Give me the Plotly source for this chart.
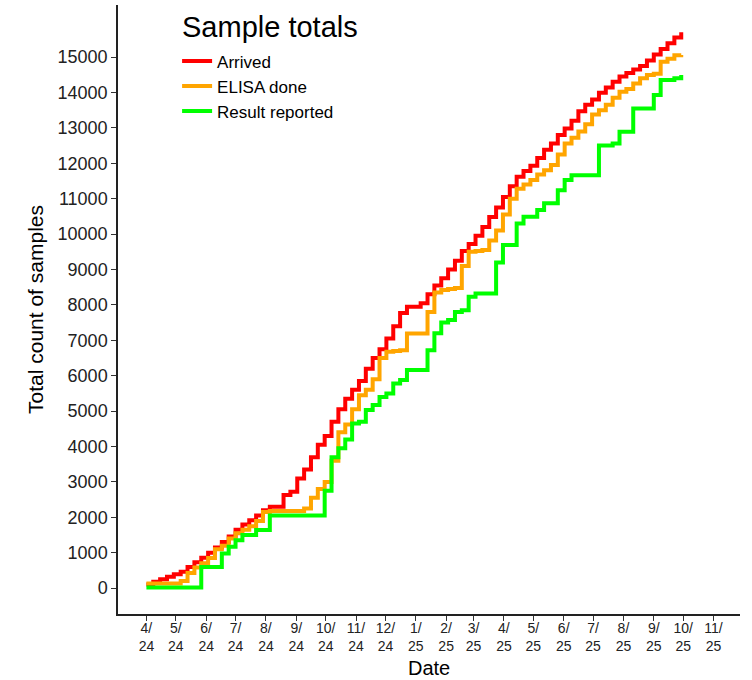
import pandas as pd
import plotly.graph_objects as go

# Weekly sampling dates (Mondays) from 1 Apr 2024
week_dates = list(pd.date_range("2024-04-01", periods=79, freq="7D"))

arrived = [100, 180, 250, 320, 390, 460, 600, 730, 860, 1000,
           1150, 1300, 1460, 1650, 1800, 1920, 2050, 2200, 2300, 2300,
           2630, 2720, 3100, 3350, 3700, 4050, 4300, 4700, 5050, 5350,
           5600, 5850, 6200, 6500, 6750, 7050, 7400, 7770, 7950, 7950,
           8050, 8300, 8550, 8750, 9000, 9250, 9520, 9720, 9950, 10200,
           10480, 10750, 11050, 11350, 11620, 11780, 11930, 12150, 12380, 12560,
           12800, 12980, 13200, 13470, 13650, 13800, 13990, 14140, 14300, 14450,
           14550, 14650, 14750, 14900, 15070, 15230, 15390, 15550, 15700]

elisa_done = [130, 130, 130, 130, 130, 200, 430, 580, 700, 850,
              1100, 1200, 1400, 1550, 1650, 1750, 1900, 2150, 2180, 2180,
              2180, 2180, 2180, 2250, 2550, 2800, 3000, 3600, 4400, 4620,
              5050, 5450, 5600, 5900, 6500, 6680, 6700, 6720, 7195, 7195,
              7195, 7800, 8350, 8420, 8450, 8480, 9100, 9500, 9520, 9550,
              9820, 10100, 10550, 11000, 11280, 11400, 11530, 11680, 11800, 11950,
              12250, 12560, 12720, 12900, 13100, 13380, 13500, 13650, 13850, 14020,
              14100, 14250, 14400, 14490, 14530, 14870, 14950, 15050, 15060]

result_reported = [20, 20, 20, 20, 20, 20, 20, 20, 600, 600,
                   600, 980, 1170, 1350, 1500, 1500, 1640, 1640, 2050, 2050,
                   2050, 2050, 2050, 2050, 2050, 2050, 2750, 3700, 3950, 4200,
                   4650, 4700, 5030, 5170, 5400, 5500, 5780, 5880, 6160, 6160,
                   6160, 6720, 7200, 7500, 7570, 7800, 7850, 8230, 8325, 8325,
                   8325, 9200, 9690, 9690, 10300, 10490, 10490, 10680, 10870, 10870,
                   11240, 11525, 11665, 11665, 11665, 11665, 12500, 12500, 12560, 12890,
                   12890, 13550, 13550, 13550, 13925, 14350, 14350, 14400, 14490]

series_names = ["Arrived", "ELISA done", "Result reported"]
series_colors = ["#FF0000", "#FFA500", "#00FF00"]

month_ticks = list(pd.date_range("2024-04-01", "2025-11-01", freq="MS"))
month_labels = [f"{d.month}/<br>{d.year % 100}" for d in month_ticks]
y_ticks = list(range(0, 15001, 1000))
y_labels = [str(v) for v in y_ticks]

FONT = "Liberation Sans, Arial, sans-serif"

fig = go.Figure()
for name, vals, col in zip(series_names, [arrived, elisa_done, result_reported], series_colors):
    fig.add_trace(go.Scatter(
        x=week_dates, y=vals, name=name, mode="lines",
        line=dict(color=col, width=4, shape="hv"),
    ))

fig.update_layout(
    width=752, height=680,
    margin=dict(l=118, r=12, t=5, b=66, autoexpand=False),
    paper_bgcolor="white", plot_bgcolor="white",
    font=dict(family=FONT, color="#1a1a1a"),
    showlegend=True,
    legend=dict(
        font=dict(size=17, color="#000"),
        x=0.095, xanchor="left", y=0.937, yanchor="top",
        bgcolor="rgba(0,0,0,0)", tracegroupgap=0,
    ),
    xaxis=dict(
        type="date", automargin=False,
        range=["2024-03-03", "2025-11-28"],
        tickmode="array", tickvals=month_ticks, ticktext=month_labels,
        tickfont=dict(size=14, color="#222"),
        ticks="outside", ticklen=5, tickcolor="#333", tickwidth=1,
        ticklabelstandoff=-5,
        showline=True, linecolor="#222", linewidth=1.5,
        showgrid=False, zeroline=False,
    ),
    yaxis=dict(
        automargin=False,
        range=[-730, 16470],
        tickmode="array", tickvals=y_ticks, ticktext=y_labels,
        tickfont=dict(size=18, color="#222"),
        ticks="outside", ticklen=5, tickcolor="#333", tickwidth=1,
        showline=True, linecolor="#222", linewidth=1.5,
        showgrid=False, zeroline=False,
        title=dict(text="Total count of samples", font=dict(size=21, color="#000"), standoff=8),
    ),
    annotations=[
        dict(text="Date", xref="paper", yref="paper", x=0.5, y=-0.088,
             xanchor="center", yanchor="middle", showarrow=False,
             font=dict(size=20, color="#000")),
        dict(text="Sample totals", xref="paper", yref="paper", x=0.099, y=0.964,
             xanchor="left", yanchor="middle", showarrow=False,
             font=dict(size=29, color="#000")),
    ],
)

fig.write_html("out.html", config={"displayModeBar": False},
               post_script="document.body.style.margin='0';")
